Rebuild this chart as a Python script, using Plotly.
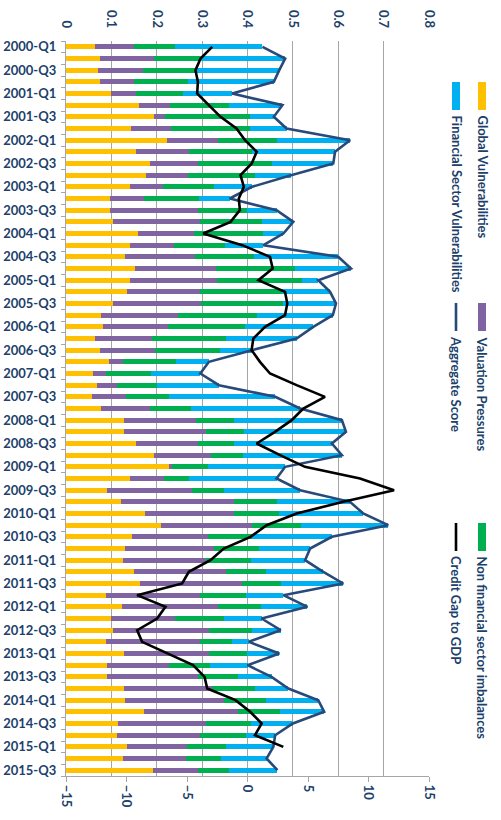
import plotly.graph_objects as go

# Quarters 2000-Q1 .. 2015-Q3
quarters = [f"{y}-Q{q}" for y in range(2000, 2016) for q in range(1, 5)][:63]
tick_text = [q if i % 2 == 0 else "" for i, q in enumerate(quarters)]

global_vuln = [0.063, 0.074, 0.071, 0.076, 0.100, 0.161, 0.193, 0.144, 0.222, 0.155,
               0.186, 0.176, 0.140, 0.097, 0.097, 0.104, 0.158, 0.140, 0.129, 0.151,
               0.142, 0.134, 0.103, 0.078, 0.082, 0.065, 0.076, 0.095, 0.060, 0.068,
               0.058, 0.078, 0.128, 0.128, 0.154, 0.195, 0.226, 0.142, 0.090, 0.121,
               0.174, 0.210, 0.146, 0.131, 0.126, 0.149, 0.164, 0.088, 0.123, 0.099,
               0.103, 0.089, 0.128, 0.090, 0.090, 0.128, 0.131, 0.171, 0.115, 0.112,
               0.134, 0.125, 0.192]
valuation = [0.086, 0.119, 0.098, 0.073, 0.054, 0.068, 0.025, 0.088, 0.113, 0.116,
             0.104, 0.092, 0.073, 0.074, 0.193, 0.192, 0.125, 0.099, 0.155, 0.179,
             0.191, 0.162, 0.194, 0.168, 0.142, 0.125, 0.120, 0.030, 0.029, 0.045,
             0.074, 0.108, 0.158, 0.180, 0.136, 0.125, 0.007, 0.075, 0.187, 0.249,
             0.196, 0.199, 0.167, 0.195, 0.182, 0.204, 0.223, 0.207, 0.212, 0.141,
             0.212, 0.206, 0.187, 0.136, 0.200, 0.194, 0.217, 0.208, 0.193, 0.184,
             0.132, 0.139, 0.098]
non_financial = [0.092, 0.102, 0.115, 0.119, 0.103, 0.131, 0.187, 0.173, 0.129, 0.139,
                 0.165, 0.148, 0.114, 0.123, 0.109, 0.137, 0.151, 0.112, 0.131, 0.175,
                 0.186, 0.179, 0.182, 0.176, 0.170, 0.162, 0.143, 0.118, 0.099, 0.088,
                 0.095, 0.089, 0.084, 0.085, 0.080, 0.070, 0.080, 0.054, 0.071, 0.096,
                 0.100, 0.108, 0.097, 0.100, 0.100, 0.088, 0.087, 0.101, 0.095, 0.108,
                 0.094, 0.070, 0.083, 0.092, 0.088, 0.094, 0.092, 0.093, 0.100, 0.101,
                 0.087, 0.077, 0.069]
financial = [0.192, 0.188, 0.186, 0.190, 0.109, 0.117, 0.053, 0.081, 0.162, 0.183,
             0.134, 0.080, 0.083, 0.067, 0.065, 0.068, 0.045, 0.084, 0.185, 0.123,
             0.037, 0.107, 0.116, 0.166, 0.151, 0.156, 0.071, 0.072, 0.108, 0.136,
             0.234, 0.241, 0.238, 0.224, 0.216, 0.218, 0.170, 0.193, 0.168, 0.160,
             0.185, 0.193, 0.176, 0.112, 0.119, 0.126, 0.137, 0.083, 0.102, 0.083,
             0.064, 0.038, 0.072, 0.082, 0.075, 0.074, 0.116, 0.097, 0.092, 0.064,
             0.104, 0.101, 0.107]
aggregate = [0.433, 0.483, 0.470, 0.458, 0.366, 0.477, 0.458, 0.486, 0.626, 0.593,
             0.589, 0.496, 0.410, 0.361, 0.464, 0.501, 0.479, 0.435, 0.600, 0.628,
             0.556, 0.582, 0.595, 0.588, 0.545, 0.508, 0.410, 0.315, 0.296, 0.337,
             0.461, 0.516, 0.608, 0.617, 0.586, 0.608, 0.483, 0.464, 0.516, 0.626,
             0.655, 0.710, 0.586, 0.538, 0.527, 0.567, 0.611, 0.479, 0.532, 0.431,
             0.473, 0.403, 0.470, 0.400, 0.453, 0.490, 0.556, 0.569, 0.500, 0.461,
             0.457, 0.442, 0.466]
credit_gap = [-2.92, -3.88, -4.30, -4.10, -4.16, -3.20, -2.23, -0.91, -0.20, 0.76,
              0.35, -0.58, -0.30, -0.72, -0.63, -1.40, -3.66, -0.44, 1.86, 2.08,
              0.90, 3.10, 3.29, 3.10, 1.45, 0.48, 0.34, 1.03, 1.86, 4.06,
              6.40, 4.61, 3.65, 2.27, 0.76, 2.69, 4.75, 9.30, 12.11, 7.92,
              4.06, 1.58, 0.25, -1.96, -3.06, -4.85, -5.40, -9.12, -6.78, -7.47,
              -9.12, -8.71, -6.64, -4.50, -3.55, -3.33, -0.99, 0.22, 1.17, 0.62,
              2.96, None, None]

NAVY = "#203F6B"
GRID = "#A6A6A6"
FONT = dict(family="Lato", size=13, color=NAVY, weight="bold")

series = [
    ("Global Vulnerabilities", global_vuln, "#FFC000"),
    ("Valuation Pressures", valuation, "#8064A2"),
    ("Non financial sector imbalances", non_financial, "#00B050"),
    ("Financial Sector Vulnerabilities", financial, "#00B0F0"),
]

fig = go.Figure()
for name, vals, col in series:
    fig.add_trace(go.Bar(name=name, y=quarters, x=vals, orientation="h",
                         marker=dict(color=col, line=dict(width=0))))
fig.add_trace(go.Scatter(name="Aggregate Score", y=quarters, x=aggregate, mode="lines",
                         line=dict(color="#274A7A", width=2.6)))
fig.add_trace(go.Scatter(name="Credit Gap to GDP", y=quarters, x=credit_gap, mode="lines",
                         xaxis="x2", line=dict(color="#000000", width=2.6)))

# plot-area geometry (pixels)
W, H = 501, 820
L, R, T, B = 66, 429, 41, 776


def px(x):
    return (x - L) / (R - L)


def py(y):
    return (B - y) / (B - T)


fig.update_layout(
    width=W, height=H,
    margin=dict(l=L, r=W - R, t=T, b=H - B),
    paper_bgcolor="white", plot_bgcolor="white",
    barmode="stack", bargap=0.58,
    showlegend=False,
    font=FONT,
    xaxis=dict(side="top", range=[0, 0.8], dtick=0.1, tickangle=90,
               showgrid=True, gridcolor=GRID, gridwidth=1, zeroline=False,
               showline=False, ticks="", ticklabelstandoff=10,
               tickfont=FONT, automargin=False),
    xaxis2=dict(overlaying="x", side="bottom", range=[-15, 15], dtick=5,
                tickangle=90, showgrid=False, zeroline=False,
                showline=True, linecolor=GRID, linewidth=1.3,
                ticks="outside", ticklen=5, tickcolor=GRID, tickwidth=1.3,
                tickfont=FONT, automargin=False),
    yaxis=dict(type="category", categoryorder="array", categoryarray=quarters,
               range=[len(quarters) - 0.5, -0.5],
               tickmode="array", tickvals=quarters, ticktext=tick_text,
               tickson="boundaries", ticks="outside", ticklen=4,
               tickcolor=GRID, tickwidth=1.3, ticklabelstandoff=6,
               showline=True, linecolor=GRID, linewidth=1.3,
               showgrid=False, zeroline=False, tickfont=FONT,
               automargin=False),
)

# rotated legend on the right-hand side
legend_items = [
    (482, 82, "rect", "#FFC000", "Global Vulnerabilities"),
    (456, 82, "rect", "#00B0F0", "Financial Sector Vulnerabilities"),
    (482, 303, "rect", "#8064A2", "Valuation Pressures"),
    (456, 303, "line", "#274A7A", "Aggregate Score"),
    (482, 523, "rect", "#00B050", "Non financial sector imbalances"),
    (456, 523, "line", "#000000", "Credit Gap to GDP"),
]
for cx, top, kind, col, label in legend_items:
    if kind == "rect":
        fig.add_shape(type="rect", xref="paper", yref="paper",
                      x0=px(cx - 4), x1=px(cx + 4), y0=py(top + 28), y1=py(top),
                      fillcolor=col, line=dict(width=0))
    else:
        fig.add_shape(type="line", xref="paper", yref="paper",
                      x0=px(cx), x1=px(cx), y0=py(top + 28), y1=py(top),
                      line=dict(color=col, width=2.6))
    fig.add_annotation(text=label, xref="paper", yref="paper",
                       x=px(cx), y=py(top + 31), xanchor="center", yanchor="top",
                       textangle=90, showarrow=False, font=FONT)

fig.write_html("out.html")
